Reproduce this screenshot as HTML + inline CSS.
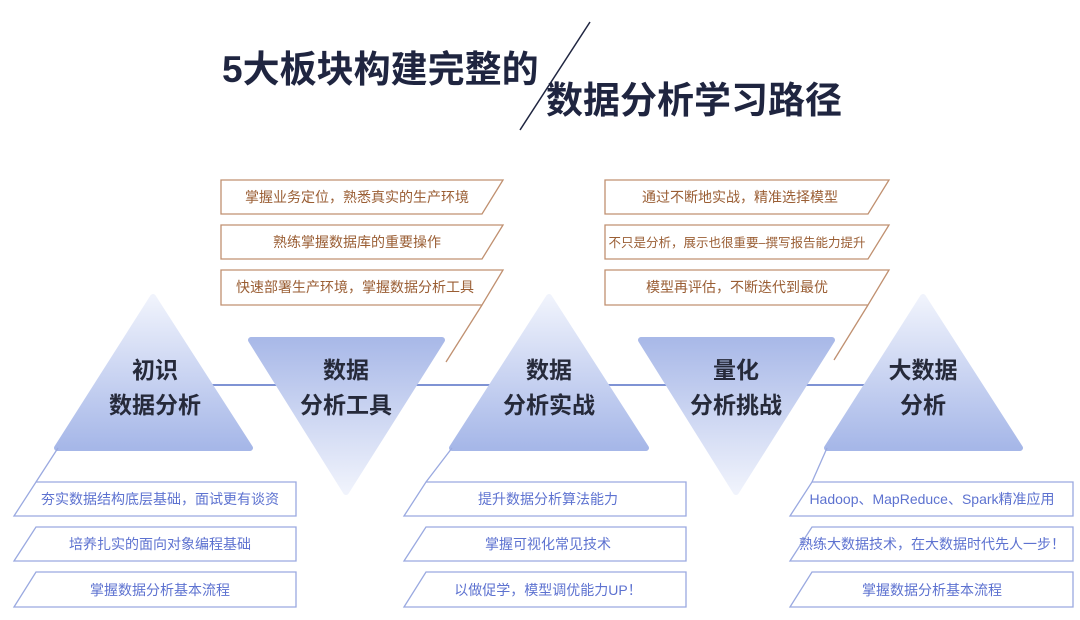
<!DOCTYPE html>
<html><head><meta charset="utf-8"><style>
html,body{margin:0;padding:0;background:#fff;}
svg{display:block;font-family:"Liberation Sans","Noto Sans CJK SC",sans-serif;}
</style></head><body>
<svg width="1080" height="620" viewBox="0 0 1080 620" xmlns="http://www.w3.org/2000/svg">
<defs>
<linearGradient id="up" x1="0" y1="0" x2="0" y2="1">
<stop offset="0" stop-color="#f0f3fc"/><stop offset="1" stop-color="#a6b7e8"/></linearGradient>
<linearGradient id="dn" x1="0" y1="0" x2="0" y2="1">
<stop offset="0" stop-color="#a9b9e8"/><stop offset="1" stop-color="#f0f3fc"/></linearGradient>
</defs>
<text x="222" y="82" font-size="37" font-weight="bold" fill="#1f2540">5大板块构建完整的</text>
<text x="546" y="113" font-size="37" font-weight="bold" fill="#1f2540">数据分析学习路径</text>
<line x1="590" y1="22" x2="520" y2="130" stroke="#1f2540" stroke-width="1.5"/>
<line x1="200" y1="385" x2="880" y2="385" stroke="#7f93d4" stroke-width="2"/>
<g stroke-linejoin="round">
<path d="M153,297 L250,448 L57,448 Z" fill="url(#up)" stroke="url(#up)" stroke-width="6"/>
<path d="M251,340 L442,340 L346,492 Z" fill="url(#dn)" stroke="url(#dn)" stroke-width="6"/>
<path d="M549,297 L646,448 L452,448 Z" fill="url(#up)" stroke="url(#up)" stroke-width="6"/>
<path d="M641,340 L832,340 L736,492 Z" fill="url(#dn)" stroke="url(#dn)" stroke-width="6"/>
<path d="M923,297 L1020,448 L827,448 Z" fill="url(#up)" stroke="url(#up)" stroke-width="6"/>
</g>
<g font-size="23" font-weight="bold" fill="#262a3a" text-anchor="middle">
<text x="155" y="378">初识</text><text x="155" y="413">数据分析</text>
<text x="346" y="378">数据</text><text x="346" y="413">分析工具</text>
<text x="549" y="378">数据</text><text x="549" y="413">分析实战</text>
<text x="736" y="378">量化</text><text x="736" y="413">分析挑战</text>
<text x="923" y="378">大数据</text><text x="923" y="413">分析</text>
</g>
<g fill="none" stroke="#c09070" stroke-width="1.3">
<path d="M221,180 L503,180 L482,214 L221,214 Z"/>
<path d="M221,225 L503,225 L482,259 L221,259 Z"/>
<path d="M221,270 L503,270 L482,305 L221,305 Z"/>
<line x1="482" y1="305" x2="446" y2="362"/>
<path d="M605,180 L889,180 L868,214 L605,214 Z"/>
<path d="M605,225 L889,225 L868,259 L605,259 Z"/>
<path d="M605,270 L889,270 L868,305 L605,305 Z"/>
<line x1="868" y1="305" x2="834" y2="360"/>
</g>
<g font-size="14" fill="#9a5e34" text-anchor="middle">
<text x="357" y="202">掌握业务定位，熟悉真实的生产环境</text>
<text x="357" y="247">熟练掌握数据库的重要操作</text>
<text x="355" y="292">快速部署生产环境，掌握数据分析工具</text>
<text x="740" y="202">通过不断地实战，精准选择模型</text>
<text x="737" y="247" font-size="12.5">不只是分析，展示也很重要–撰写报告能力提升</text>
<text x="737" y="292">模型再评估，不断迭代到最优</text>
</g>
<g fill="none" stroke="#9aa9e0" stroke-width="1.3">
<line x1="58" y1="448" x2="36" y2="482"/>
<path d="M36,482 L296,482 L296,516 L14,516 Z"/>
<path d="M36,527 L296,527 L296,561 L14,561 Z"/>
<path d="M36,572 L296,572 L296,607 L14,607 Z"/>
<line x1="452" y1="448" x2="426" y2="482"/>
<path d="M426,482 L686,482 L686,516 L404,516 Z"/>
<path d="M426,527 L686,527 L686,561 L404,561 Z"/>
<path d="M426,572 L686,572 L686,607 L404,607 Z"/>
<line x1="827" y1="448" x2="812" y2="482"/>
<path d="M812,482 L1073,482 L1073,516 L790,516 Z"/>
<path d="M812,527 L1073,527 L1073,561 L790,561 Z"/>
<path d="M812,572 L1073,572 L1073,607 L790,607 Z"/>
</g>
<g font-size="14" fill="#5d72d0" text-anchor="middle">
<text x="160" y="504">夯实数据结构底层基础，面试更有谈资</text>
<text x="160" y="549">培养扎实的面向对象编程基础</text>
<text x="160" y="595">掌握数据分析基本流程</text>
<text x="548" y="504">提升数据分析算法能力</text>
<text x="548" y="549">掌握可视化常见技术</text>
<text x="548" y="595">以做促学，模型调优能力UP！</text>
<text x="932" y="504">Hadoop、MapReduce、Spark精准应用</text>
<text x="932" y="549">熟练大数据技术，在大数据时代先人一步！</text>
<text x="932" y="595">掌握数据分析基本流程</text>
</g>
</svg>
</body></html>
